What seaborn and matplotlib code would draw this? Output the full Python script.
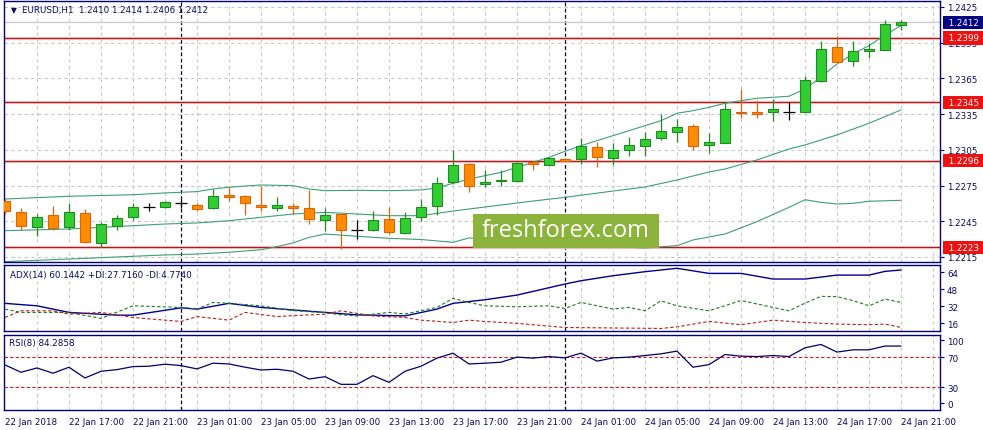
import matplotlib
matplotlib.use("Agg")
import pandas as pd
import matplotlib.pyplot as plt
import matplotlib.transforms as mtransforms
from matplotlib.patches import Rectangle
import seaborn as sns

# --- candles (EURUSD H1, bar 0 = 22 Jan 13:00) ---
opens = [1.2262, 1.2253, 1.2240, 1.2250, 1.2240, 1.2252, 1.2227, 1.2241, 1.2249, 1.2257,
         1.2257, 1.2260, 1.2259, 1.2256, 1.2267, 1.2266, 1.2259, 1.2256, 1.2258, 1.2256,
         1.2246, 1.2251, 1.2238, 1.2238, 1.2247, 1.2235, 1.2249, 1.2258, 1.2278, 1.2293,
         1.2276, 1.2279, 1.2279, 1.2295, 1.2292, 1.2297, 1.2297, 1.2307, 1.2298, 1.2305,
         1.2308, 1.2315, 1.2320, 1.2325, 1.2309, 1.2311, 1.2337, 1.2337, 1.2337, 1.2337,
         1.2337, 1.2363, 1.2391, 1.2380, 1.2388, 1.2389, 1.2410]
highs = [1.2264, 1.2256, 1.2251, 1.2258, 1.2260, 1.2255, 1.2244, 1.2250, 1.2260, 1.2260,
         1.2262, 1.2264, 1.2260, 1.2272, 1.2274, 1.2267, 1.2275, 1.2265, 1.2260, 1.2271,
         1.2256, 1.2251, 1.2246, 1.2254, 1.2257, 1.2253, 1.2264, 1.2282, 1.2305, 1.2294,
         1.2288, 1.2288, 1.2295, 1.2296, 1.2299, 1.2298, 1.2315, 1.2312, 1.2311, 1.2316,
         1.2320, 1.2335, 1.2331, 1.2327, 1.2319, 1.2344, 1.2356, 1.2347, 1.2348, 1.2345,
         1.2367, 1.2396, 1.2401, 1.2396, 1.2395, 1.2414, 1.2414]
lows = [1.2251, 1.2238, 1.2233, 1.2238, 1.2238, 1.2227, 1.2223, 1.2238, 1.2246, 1.2254,
        1.2256, 1.2256, 1.2254, 1.2255, 1.2262, 1.2250, 1.2254, 1.2254, 1.2251, 1.2243,
        1.2237, 1.2222, 1.2230, 1.2237, 1.2234, 1.2234, 1.2245, 1.2250, 1.2276, 1.2270,
        1.2274, 1.2275, 1.2278, 1.2288, 1.2292, 1.2296, 1.2293, 1.2291, 1.2292, 1.2300,
        1.2300, 1.2313, 1.2312, 1.2305, 1.2302, 1.2311, 1.2332, 1.2332, 1.2329, 1.2330,
        1.2337, 1.2362, 1.2379, 1.2375, 1.2382, 1.2389, 1.2406]
closes = [1.2254, 1.2241, 1.2249, 1.2239, 1.2253, 1.2228, 1.2243, 1.2248, 1.2257, 1.2257,
          1.2261, 1.2260, 1.2255, 1.2266, 1.2265, 1.2260, 1.2257, 1.2259, 1.2256, 1.2247,
          1.2250, 1.2238, 1.2238, 1.2246, 1.2236, 1.2248, 1.2257, 1.2277, 1.2292, 1.2275,
          1.2278, 1.2280, 1.2294, 1.2293, 1.2298, 1.2296, 1.2308, 1.2299, 1.2305, 1.2309,
          1.2314, 1.2321, 1.2324, 1.2308, 1.2312, 1.2339, 1.2336, 1.2335, 1.2339, 1.2337,
          1.2364, 1.2390, 1.2379, 1.2388, 1.2390, 1.2411, 1.2412]

# --- Bollinger bands ---
upper_idx = [0, 4, 8, 10, 12, 13, 14, 16, 18, 19, 20, 22, 24, 26, 27, 28, 29, 30, 31, 32, 33, 34,
             35, 36, 37, 38, 39, 40, 41, 42, 43, 44, 45, 46, 47, 48, 49, 50, 51, 52, 53, 54, 55, 56]
upper_val = [1.22637, 1.2266, 1.22673, 1.22688, 1.22699, 1.22721, 1.22736, 1.22755, 1.22749,
             1.22721, 1.22707, 1.2271, 1.22707, 1.22713, 1.2273, 1.22769, 1.22805, 1.22833,
             1.22861, 1.22903, 1.22945, 1.22987, 1.23038, 1.23085, 1.23127, 1.23169, 1.23211,
             1.23253, 1.23295, 1.23357, 1.23379, 1.23407, 1.23441, 1.23463, 1.23483, 1.23491,
             1.235, 1.23561, 1.23662, 1.23771, 1.23855, 1.23925, 1.24015, 1.24093]
middle_idx = [0, 4, 6, 8, 10, 12, 14, 16, 18, 20, 22, 24, 26, 28, 30, 33, 35, 38, 40, 42, 44,
              45, 47, 49, 50, 52, 54, 56]
middle_val = [1.22371, 1.22385, 1.22399, 1.22413, 1.22427, 1.22436, 1.22455, 1.22483, 1.22511,
              1.22525, 1.22511, 1.22497, 1.22497, 1.22536, 1.2257, 1.2262, 1.22651, 1.22704,
              1.22738, 1.22797, 1.22864, 1.22889, 1.22965, 1.23057, 1.23091, 1.23175,
              1.23273, 1.23385]
lower_idx = [0, 4, 8, 10, 12, 14, 16, 17, 18, 19, 20, 22, 24, 26, 28, 29, 32, 36, 40, 42, 43,
             45, 47, 49, 50, 51, 52, 53, 54, 56]
lower_val = [1.22111, 1.22133, 1.22156, 1.22167, 1.22175, 1.2219, 1.22211, 1.22237, 1.22268,
             1.22315, 1.22343, 1.22324, 1.22307, 1.22297, 1.22273, 1.2231, 1.22284, 1.2225,
             1.22226, 1.22245, 1.22293, 1.22343, 1.22447, 1.22567, 1.22631, 1.22609,
             1.22595, 1.22601, 1.22618, 1.22626]

levels = [1.2399, 1.2345, 1.2296, 1.2223]
bid = 1.2412
price_ticks = [1.2215, 1.2245, 1.2275, 1.2305, 1.2335, 1.2365, 1.2395, 1.2425]

# --- ADX(14) ---
adx_idx = [0, 2, 4, 7, 8, 11, 12, 14, 16, 18, 20, 22, 25, 27, 28, 30, 32, 35, 36, 38, 40, 42,
           44, 46, 48, 50, 52, 54, 55, 56]
adx_val = [34.8, 32.5, 26.3, 23.7, 23.7, 30.6, 29.4, 34.8, 31.0, 28.6, 26.3, 24.0, 23.0, 29.4,
           34.8, 38.2, 42.6, 53.0, 56.1, 60.8, 64.6, 67.8, 63.0, 63.0, 57.7, 57.7, 61.4, 61.4,
           64.9, 66.2]
pdi_idx = [0, 1, 2, 4, 6, 8, 11, 12, 13, 14, 16, 18, 20, 21, 22, 24, 25, 27, 28, 29, 30, 32,
           34, 35, 36, 38, 39, 40, 41, 42, 44, 46, 48, 49, 50, 51, 52, 53, 54, 55, 56]
pdi_val = [29.4, 26.3, 26.3, 26.3, 20.6, 32.5, 31.0, 29.4, 35.7, 34.8, 32.5, 28.0, 26.0, 24.0,
           23.0, 26.3, 24.8, 31.0, 39.5, 35.7, 32.5, 31.6, 32.5, 30.0, 35.7, 29.4, 31.0, 27.8,
           37.2, 32.5, 27.8, 37.5, 31.0, 27.8, 35.0, 41.4, 41.1, 37.4, 32.5, 38.8, 35.7]
mdi_idx = [0, 1, 3, 4, 6, 8, 10, 11, 12, 14, 15, 17, 19, 20, 21, 23, 25, 26, 28, 29, 30, 32,
           35, 39, 41, 42, 44, 46, 48, 50, 52, 54, 55, 56]
mdi_val = [21.5, 27.8, 27.8, 24.6, 26.3, 21.5, 19.0, 17.8, 22.4, 19.0, 26.3, 22.4, 24.0, 24.6,
           27.8, 23.0, 21.5, 19.0, 16.8, 19.0, 17.8, 16.0, 12.1, 11.5, 11.2, 12.7, 17.8, 14.7,
           19.0, 16.8, 15.3, 14.7, 15.3, 12.1]
adx_ticks = [16, 32, 48, 64]

# --- RSI(8), one value per bar ---
rsi = [59.7, 50.0, 55.7, 48.7, 56.7, 42.4, 51.3, 53.5, 57.5, 58.0,
       60.7, 58.8, 54.4, 62.0, 61.0, 56.7, 53.0, 54.0, 51.3, 41.0,
       44.1, 34.0, 34.0, 45.5, 36.7, 51.3, 58.0, 68.7, 75.3, 61.0,
       62.0, 63.3, 70.0, 68.7, 70.8, 69.0, 75.3, 64.7, 69.0, 70.0,
       72.1, 74.4, 78.0, 56.7, 60.1, 73.5, 71.3, 70.8, 72.1, 70.8,
       82.4, 86.8, 76.7, 79.7, 79.7, 84.7, 84.7]

time_labels = ["22 Jan 2018", "22 Jan 17:00", "22 Jan 21:00", "23 Jan 01:00", "23 Jan 05:00",
               "23 Jan 09:00", "23 Jan 13:00", "23 Jan 17:00", "23 Jan 21:00", "24 Jan 01:00",
               "24 Jan 05:00", "24 Jan 09:00", "24 Jan 13:00", "24 Jan 17:00", "24 Jan 21:00"]
day_breaks = [11, 35]

NAVY = "#000080"
TXT = "#0A0A60"
GRID = "#C8C8C8"
BULL, BULL_EDGE = "#32CD32", "#1F8A1F"
BEAR, BEAR_EDGE = "#FF8C00", "#D9650A"
BB = "#3E9E78"
FS = 6.3

sns.set_style("white")
plt.rcParams["font.family"] = ["DejaVu Sans"]

W, H = 983, 431
fig = plt.figure(figsize=(W / 100, H / 100), dpi=100)


def rect(x0, y0, x1, y1):
    return [x0 / W, 1 - y1 / H, (x1 - x0) / W, (y1 - y0) / H]


ax = fig.add_axes(rect(4, 2, 940, 263))
ax_adx = fig.add_axes(rect(4, 266, 940, 332))
ax_rsi = fig.add_axes(rect(4, 335.5, 940, 411))

n = len(opens)
df = pd.DataFrame({"bar": range(n), "open": opens, "high": highs, "low": lows, "close": closes})
up = df[df["close"] > df["open"]]
dn = df[df["close"] < df["open"]]
dj = df[df["close"] == df["open"]]

for a in (ax, ax_adx, ax_rsi):
    a.set_xlim(-0.0625, 58.4375)
    for s in a.spines.values():
        s.set_color(NAVY)
        s.set_linewidth(1)
    a.yaxis.tick_right()
    a.tick_params(axis="y", direction="out", length=3, width=0.8, color=NAVY,
                  labelsize=FS, labelcolor=TXT, pad=2)
    for i in range(2, 59, 2):
        a.axvline(i, color=GRID, lw=0.8, ls=(0, (3, 3)), zorder=0)
    for d in day_breaks:
        a.axvline(d, color="#000030", lw=0.9, ls=(0, (3, 2)), zorder=1)

# main panel
ax.set_ylim(1.22108, 1.2430)
ax.set_yticks(price_ticks)
ax.set_yticklabels([f"{p:.4f}" for p in price_ticks])
for p in price_ticks:
    ax.axhline(p, color=GRID, lw=0.8, ls=(0, (3, 3)), zorder=0)
ax.tick_params(axis="x", bottom=False, labelbottom=False)
ax.axhline(bid, color="#C8C8C8", lw=0.9, zorder=1)
for lv in levels:
    ax.axhline(lv, color="#FAE0E0", lw=2.4, zorder=1)
    ax.axhline(lv, color="#B01A1A", lw=1.0, zorder=2)

sns.lineplot(x=upper_idx, y=upper_val, ax=ax, color=BB, lw=0.8, zorder=2)
sns.lineplot(x=middle_idx, y=middle_val, ax=ax, color=BB, lw=0.8, zorder=2)
sns.lineplot(x=lower_idx, y=lower_val, ax=ax, color=BB, lw=0.8, zorder=2)

ax.vlines(up["bar"], up["low"], up["high"], color=BULL_EDGE, lw=0.9, zorder=3)
ax.bar(up["bar"], up["close"] - up["open"], bottom=up["open"], width=0.66,
       color=BULL, edgecolor=BULL_EDGE, lw=0.8, zorder=4)
ax.vlines(dn["bar"], dn["low"], dn["high"], color=BEAR_EDGE, lw=0.9, zorder=3)
ax.bar(dn["bar"], dn["open"] - dn["close"], bottom=dn["close"], width=0.66,
       color=BEAR, edgecolor=BEAR_EDGE, lw=0.8, zorder=4)
ax.vlines(dj["bar"], dj["low"], dj["high"], color="black", lw=0.9, zorder=3)
ax.hlines(dj["open"], dj["bar"] - 0.38, dj["bar"] + 0.38, color="black", lw=0.9, zorder=3)
ax.set_xlabel("")
ax.set_ylabel("")

trans = mtransforms.blended_transform_factory(ax.transAxes, ax.transData)
for lv in levels:
    ax.text(1.006, lv, f" {lv:.4f} ", transform=trans, ha="left", va="center", fontsize=FS,
            color="white", bbox=dict(boxstyle="square,pad=0.25", fc="#EE1111", ec="none"),
            zorder=10, clip_on=False)
ax.text(1.006, bid, f" {bid:.4f} ", transform=trans, ha="left", va="center", fontsize=FS,
        color="white", bbox=dict(boxstyle="square,pad=0.25", fc=NAVY, ec="none"),
        zorder=10, clip_on=False)
ax.text(0.0072, 0.969, "▼", transform=ax.transAxes, fontsize=5.5, color=TXT, va="center")
ax.text(0.019, 0.969, "EURUSD,H1  1.2410 1.2414 1.2406 1.2412", transform=ax.transAxes,
        fontsize=FS, color=TXT, va="center")

# ADX panel
ax_adx.set_ylim(8.8, 70.9)
sns.lineplot(x=adx_idx, y=adx_val, ax=ax_adx, color="#000090", lw=1.0, zorder=3)
sns.lineplot(x=pdi_idx, y=pdi_val, ax=ax_adx, color="#1E7A1E", lw=0.8,
             linestyle=(0, (3, 2)), zorder=3)
sns.lineplot(x=mdi_idx, y=mdi_val, ax=ax_adx, color="#B22222", lw=0.8,
             linestyle=(0, (3, 2)), zorder=3)
ax_adx.set_yticks(adx_ticks)
ax_adx.set_yticklabels([str(t) for t in adx_ticks])
ax_adx.tick_params(axis="x", bottom=False, labelbottom=False)
ax_adx.text(0.0064, 0.86, "ADX(14) 60.1442 +DI:27.7160 -DI:4.7740", transform=ax_adx.transAxes,
            fontsize=FS, color=TXT, va="center")
ax_adx.set_xlabel("")
ax_adx.set_ylabel("")

# RSI panel
ax_rsi.set_ylim(0, 100)
for lv in (70, 30):
    ax_rsi.axhline(lv, color="#CC2020", lw=0.8, ls=(0, (3, 2)), zorder=1)
sns.lineplot(x=list(range(n)), y=rsi, ax=ax_rsi, color="#000070", lw=0.9, zorder=3)
ax_rsi.set_yticks([92.5, 70, 30, 9])
ax_rsi.set_yticklabels(["100", "70", "30", "0"])
ax_rsi.set_xticks(list(range(0, 57, 4)))
ax_rsi.set_xticklabels(time_labels)
ax_rsi.tick_params(axis="x", direction="out", length=3, width=0.8, color=NAVY,
                   labelsize=FS, labelcolor=TXT, pad=2)
for lbl in ax_rsi.get_xticklabels():
    lbl.set_ha("left")
ax_rsi.text(0.0053, 0.90, "RSI(8) 84.2858", transform=ax_rsi.transAxes,
            fontsize=FS, color=TXT, va="center")
ax_rsi.set_xlabel("")
ax_rsi.set_ylabel("")

# watermark
fig.add_artist(Rectangle((473 / W, 1 - 248.5 / H), 186 / W, 33.5 / H,
                         transform=fig.transFigure, fc="#8CB43C", ec="none", zorder=20))
fig.text(566 / W, 1 - 231 / H, "freshforex.com", ha="center", va="center", color="white",
         fontsize=17, family=["Open Sans", "DejaVu Sans"], zorder=21)

fig.savefig("out.png", dpi=100)
